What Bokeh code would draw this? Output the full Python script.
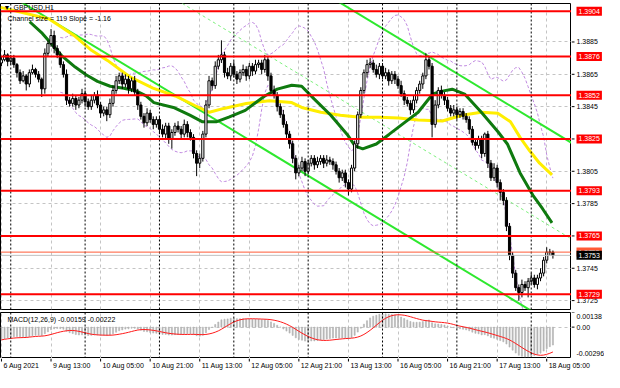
import numpy as np
from bokeh.plotting import figure
from bokeh.layouts import column, row
from bokeh.models import Range1d, FixedTicker, Span, Label
from bokeh.core.properties import value
from bokeh.embed import file_html
from bokeh.resources import INLINE

# ---------------- data ----------------
symbol_title = "GBPUSD,H1"
channel_text = "Channel size = 119 Slope = -1.16"
macd_text = "MACD(12,26,9) -0.00159 -0.00222"

time_labels = ["6 Aug 2021", "9 Aug 13:00", "10 Aug 05:00", "10 Aug 21:00", "11 Aug 13:00",
               "12 Aug 05:00", "12 Aug 21:00", "13 Aug 13:00", "16 Aug 05:00", "16 Aug 21:00",
               "17 Aug 13:00", "18 Aug 05:00"]
time_label_bars = [0, 16, 32, 48, 64, 80, 96, 112, 128, 144, 160, 176]
day_separator_bars = [3, 27, 51, 75, 99, 123, 147, 171]

first_open = 1.3872
closes = [
    1.3874, 1.3877, 1.3873, 1.3875,
    1.3871, 1.3866, 1.3861, 1.3864, 1.3859,
    1.3866, 1.3868, 1.3865, 1.3862,
    1.3856, 1.3878,
    1.3884, 1.3889, 1.3881,
    1.3877, 1.3871,
    1.3865, 1.3849,
    1.3847, 1.3850, 1.3846, 1.3849, 1.3853, 1.3848, 1.3845, 1.3849, 1.3852,
    1.3846, 1.3841, 1.3843, 1.3840,
    1.3847, 1.3855, 1.3861, 1.3864,
    1.3859, 1.3862, 1.3856, 1.3861, 1.3854,
    1.3846, 1.3839, 1.3835, 1.3841,
    1.3837, 1.3834, 1.3837, 1.3831, 1.3828, 1.3833,
    1.3825, 1.3829, 1.3833,
    1.3831, 1.3828, 1.3834, 1.3829, 1.3826,
    1.3816, 1.3810, 1.3813,
    1.3828, 1.3846, 1.3861,
    1.3858, 1.3870, 1.3874, 1.3877,
    1.3866, 1.3864, 1.3870, 1.3865, 1.3862, 1.3866, 1.3868, 1.3864,
    1.3870, 1.3867, 1.3871, 1.3872, 1.3868, 1.3874,
    1.3864, 1.3855, 1.3852, 1.3845,
    1.3840, 1.3834, 1.3828,
    1.3822, 1.3813, 1.3804,
    1.3807, 1.3811, 1.3805, 1.3810, 1.3813, 1.3809,
    1.3811, 1.3813, 1.3810, 1.3812, 1.3811, 1.3809,
    1.3805, 1.3801, 1.3804, 1.3798, 1.3794,
    1.3807, 1.3822, 1.3840,
    1.3855, 1.3866, 1.3871,
    1.3872, 1.3868, 1.3865, 1.3870,
    1.3864, 1.3866, 1.3861, 1.3865, 1.3862,
    1.3858, 1.3853, 1.3849, 1.3847,
    1.3843, 1.3849, 1.3855,
    1.3859, 1.3864, 1.3874,
    1.3870, 1.3834,
    1.3846, 1.3855, 1.3852, 1.3849,
    1.3844, 1.3841, 1.3843, 1.3840, 1.3842, 1.3839,
    1.3837, 1.3831, 1.3823, 1.3821,
    1.3825, 1.3816, 1.3828,
    1.3810, 1.3801,
    1.3807, 1.3798, 1.3792, 1.3787,
    1.3771, 1.3753,
    1.3742, 1.3733,
    1.3730, 1.3735, 1.3733,
    1.3737, 1.3739, 1.3735, 1.3739, 1.3742,
    1.3750, 1.3755,
    1.3755, 1.3753,
]
# wick lengths in pips beyond the candle body
upper_wick_pips = [
    2, 3, 1, 2, 2, 1, 2, 3, 1, 2,
    3, 1, 2, 1, 3, 2, 4, 3, 2, 2,
    2, 3, 2, 3, 2, 2, 3, 2, 2, 3,
    2, 3, 2, 2, 2, 3, 3, 3, 2, 2,
    3, 2, 2, 3, 2, 2, 2, 3, 2, 2,
    2, 2, 3, 2, 2, 2, 2, 3, 2, 3,
    2, 2, 2, 2, 3, 2, 3, 3, 2, 3,
    3, 9, 2, 3, 2, 3, 2, 2, 3, 2,
    2, 2, 3, 2, 2, 3, 2, 2, 3, 2,
    2, 3, 2, 2, 2, 2, 2, 3, 2, 2,
    2, 2, 3, 2, 2, 3, 2, 2, 2, 2,
    2, 2, 2, 2, 2, 2, 2, 2, 3, 3,
    2, 3, 2, 2, 3, 2, 2, 2, 2, 3,
    2, 2, 2, 3, 2, 2, 2, 4, 2, 2,
    3, 2, 3, 2, 2, 2, 3, 2, 2, 2,
    2, 2, 2, 2, 2, 2, 1, 2, 2, 3,
    2, 2, 2, 2, 2, 2, 2, 2, 3, 2,
    2, 3, 2, 2, 3, 2, 3, 2, 1,
]
lower_wick_pips = [
    2, 1, 3, 2, 2, 3, 2, 1, 4, 2,
    1, 2, 2, 5, 3, 2, 2, 3, 2, 2,
    2, 3, 2, 2, 3, 2, 2, 3, 2, 2,
    2, 2, 3, 2, 4, 2, 2, 2, 2, 3,
    2, 3, 2, 2, 3, 2, 3, 2, 2, 3,
    2, 3, 2, 3, 3, 6, 2, 2, 3, 2,
    3, 2, 3, 8, 3, 2, 2, 2, 3, 2,
    2, 2, 3, 2, 3, 2, 3, 2, 2, 3,
    2, 3, 2, 2, 3, 2, 3, 2, 2, 3,
    2, 2, 3, 3, 3, 4, 2, 2, 3, 2,
    2, 3, 2, 2, 3, 2, 2, 3, 2, 3,
    2, 3, 4, 2, 2, 3, 2, 2, 3, 2,
    2, 2, 3, 2, 2, 3, 2, 3, 2, 2,
    3, 2, 3, 2, 2, 2, 3, 2, 2, 8,
    2, 2, 2, 3, 2, 2, 2, 3, 2, 2,
    2, 3, 2, 3, 2, 3, 2, 3, 2, 2,
    3, 5, 3, 3, 3, 3, 2, 5, 3, 2,
    6, 2, 2, 3, 2, 2, 2, 2, 2,
]

# moving averages read at sample bars
ma_green_bars = [9.1, 13.2, 19.4, 23.8, 27.3, 31.0, 35.1, 39.5, 43.6, 46.7, 49.2, 55.5, 60.8, 64.9,
                 69.3, 73.4, 78.7, 85.0, 89.0, 93.7, 96.9, 100.9, 106.3, 111.6, 114.1, 116.6, 121.0,
                 125.1, 130.4, 134.5, 139.2, 142.3, 145.5, 149.5, 154.9, 160.2, 163.3, 167.4, 171.5,
                 174.6, 177.7]
ma_green_vals = [1.38975, 1.38903, 1.38766, 1.38695, 1.38647, 1.38606, 1.38576, 1.38564, 1.38546,
                 1.38516, 1.38475, 1.38445, 1.38397, 1.38356, 1.38356, 1.38385, 1.38427, 1.38516,
                 1.38558, 1.38582, 1.38576, 1.38498, 1.38397, 1.38278, 1.38207, 1.38189, 1.38219,
                 1.38278, 1.38356, 1.38415, 1.38528, 1.38546, 1.38558, 1.38528, 1.38415, 1.38296,
                 1.38219, 1.38040, 1.37903, 1.37820, 1.37731]
ma_yellow_bars = [-0.3, 15.4, 23.8, 28.8, 34.2, 41.4, 48.9, 56.1, 62.4, 67.1, 71.8, 79.0, 86.5, 93.7,
                  96.9, 103.1, 109.4, 115.7, 121.9, 128.2, 134.5, 142.3, 148.6, 154.9, 160.2, 164.3,
                  167.4, 170.5, 173.7, 177.7]
ma_yellow_vals = [1.39064, 1.38992, 1.38885, 1.38802, 1.38736, 1.38635, 1.38564, 1.38516, 1.38457,
                  1.38415, 1.38439, 1.38469, 1.38487, 1.38475, 1.38445, 1.38415, 1.38397, 1.38385,
                  1.38385, 1.38379, 1.38367, 1.38361, 1.38397, 1.38415, 1.38409, 1.38356, 1.38260,
                  1.38177, 1.38100, 1.38028]

# linear regression channel
channel_anchor_bar = 15.4
channel_anchor_price = 1.38992
channel_slope_pips = -1.16
channel_size_pips = 119

levels = [1.3904, 1.3876, 1.3852, 1.3825, 1.3793, 1.3765, 1.3729]
ask_price = 1.3755
bid_price = 1.3753
price_ticks = [1.3725, 1.3745, 1.3765, 1.3785, 1.3805, 1.3825, 1.3845, 1.3865, 1.3885]
macd_max, macd_min = 0.00138, -0.00296
macd_start = -0.0013
bb_period, bb_dev = 20, 2.0

# ---------------- derived ----------------
n = len(closes)
idx = np.arange(n)
c = np.array(closes)
o = np.concatenate([[first_open], c[:-1]])
hi = np.maximum(o, c) + np.array(upper_wick_pips) * 0.0001
lo = np.minimum(o, c) - np.array(lower_wick_pips) * 0.0001
inc = c >= o

bb_x, bb_up, bb_dn = [], [], []
for i in range(bb_period - 1, n):
    w = c[i - bb_period + 1:i + 1]
    m, s = w.mean(), w.std()
    bb_x.append(i); bb_up.append(m + bb_dev * s); bb_dn.append(m - bb_dev * s)

a12, a26 = 2 / 13, 2 / 27
e12 = c[0]; e26 = c[0] - macd_start
macd = []
for v in c:
    e12 = e12 + a12 * (v - e12)
    e26 = e26 + a26 * (v - e26)
    macd.append(e12 - e26)
macd = np.array(macd)
signal = np.array([macd[max(0, i - 8):i + 1].mean() for i in range(n)])

X0, X1 = -0.31, 184.0
Y0, Y1 = 1.37195, 1.39088
FONT = "Liberation Sans"
FW, SW = 571, 33
MAIN_H, MACD_H, TIME_H = 306, 46, 14
TOP = 3
X1_FULL = X1 + SW * (X1 - X0) / FW   # time scale runs under the price scale too


def bare(fig):
    fig.outline_line_color = None
    fig.background_fill_color = "white"
    fig.border_fill_color = "white"
    fig.xgrid.visible = False
    fig.ygrid.visible = False
    return fig


xr = Range1d(X0, X1)
main_yr = Range1d(Y0, Y1)
macd_yr = Range1d(macd_min, macd_max)

# ---------------- main pane ----------------
p = figure(frame_width=FW, frame_height=MAIN_H, x_range=xr, y_range=main_yr,
           x_axis_location=None, y_axis_location=None, toolbar_location=None,
           output_backend="svg", min_border_left=0, min_border_right=0,
           min_border_top=TOP, min_border_bottom=2)
p.outline_line_color = "black"
p.background_fill_color = "white"
p.border_fill_color = "white"
p.xgrid.ticker = FixedTicker(ticks=time_label_bars)
p.ygrid.ticker = FixedTicker(ticks=price_ticks)
for g in (p.xgrid, p.ygrid):
    g.grid_line_color = "#c4c4c4"
    g.grid_line_dash = "3 3"

for b in day_separator_bars:
    p.add_layout(Span(location=b, dimension="height", line_color="black", line_dash="2 2", line_width=1))

p.line(bb_x, bb_up, line_color="#c08ae0", line_dash="3 2", line_width=1)
p.line(bb_x, bb_dn, line_color="#c08ae0", line_dash="3 2", line_width=1)

cx = np.array([X0 - 1, X1 + 1])
lower = channel_anchor_price + channel_slope_pips * 0.0001 * (cx - channel_anchor_bar)
p.line(cx, lower, line_color="#2ee82e", line_width=2)
p.line(cx, lower + channel_size_pips * 0.0001, line_color="#2ee82e", line_width=2)
p.line(cx, lower + channel_size_pips * 0.00005, line_color="#7ef07e", line_width=1, line_dash="3 3")

for lv in levels:
    p.add_layout(Span(location=lv, dimension="width", line_color="#ff0000", line_width=2))
p.add_layout(Span(location=ask_price, dimension="width", line_color="#ff5a36", line_width=1))
p.add_layout(Span(location=bid_price, dimension="width", line_color="#c0c0c0", line_width=1))

p.line(ma_yellow_bars, ma_yellow_vals, line_color="#ffee00", line_width=3)
p.line(ma_green_bars, ma_green_vals, line_color="#0f7a0f", line_width=3)

p.segment(x0=idx, y0=lo, x1=idx, y1=hi, line_color="black", line_width=1)
p.vbar(x=idx[inc], width=0.7, top=c[inc], bottom=o[inc], fill_color="white", line_color="black", line_width=1)
p.vbar(x=idx[~inc], width=0.7, top=o[~inc], bottom=c[~inc], fill_color="black", line_color="black", line_width=1)

p.add_layout(Label(x=X0, y=Y1, x_offset=3, y_offset=0, text="\u25bc", text_font=FONT, text_font_size="7px",
                   text_color="black", text_baseline="top"))
p.add_layout(Label(x=X0, y=Y1, x_offset=13, y_offset=0, text=symbol_title, text_font=FONT,
                   text_font_size="7px", text_color="black", text_baseline="top"))
p.add_layout(Label(x=X0, y=Y1, x_offset=7, y_offset=-11, text=channel_text, text_font=FONT,
                   text_font_size="7px", text_color="black", text_baseline="top"))

# ---------------- main price scale (right) ----------------
a = bare(figure(frame_width=SW, frame_height=MAIN_H, x_range=Range1d(0, SW), y_range=main_yr,
                x_axis_location=None, y_axis_location=None, toolbar_location=None,
                output_backend="svg", min_border_left=0, min_border_right=0,
                min_border_top=TOP, min_border_bottom=2))
a.segment(x0=[0] * len(price_ticks), x1=[3] * len(price_ticks), y0=price_ticks, y1=price_ticks,
          line_color="black", line_width=1)
a.text(x=[5] * len(price_ticks), y=price_ticks, text=[f"{t:.4f}" for t in price_ticks],
       text_font=value(FONT), text_font_size="7px", text_color="black",
       text_baseline="middle", text_align="left")


def price_tag(pr, bg):
    a.add_layout(Label(x=5, y=pr, text=f"{pr:.4f}", text_font=FONT, text_font_size="7px",
                       text_color="white", text_baseline="middle", text_align="left",
                       background_fill_color=bg, padding=2))


for lv in levels:
    price_tag(lv, "#ff0000")
price_tag(ask_price, "#ff5a36")
price_tag(bid_price, "black")

# ---------------- MACD pane ----------------
q = figure(frame_width=FW, frame_height=MACD_H, x_range=xr, y_range=macd_yr,
           x_axis_location=None, y_axis_location=None, toolbar_location=None, output_backend="svg",
           min_border_left=0, min_border_right=0, min_border_top=1, min_border_bottom=0)
q.outline_line_color = "black"
q.background_fill_color = "white"
q.border_fill_color = "white"
q.xgrid.ticker = FixedTicker(ticks=time_label_bars)
q.ygrid.ticker = FixedTicker(ticks=[0])
for g in (q.xgrid, q.ygrid):
    g.grid_line_color = "#c4c4c4"
    g.grid_line_dash = "3 3"
for b in day_separator_bars:
    q.add_layout(Span(location=b, dimension="height", line_color="black", line_dash="2 2", line_width=1))

q.vbar(x=idx, width=0.35, top=macd, bottom=0, fill_color="#b4b4b4", line_color="#b4b4b4", line_width=0.6)
q.line(idx, signal, line_color="#ff1a1a", line_width=1)
q.add_layout(Label(x=X0, y=macd_max, x_offset=7, y_offset=-3, text=macd_text, text_font=FONT,
                   text_font_size="7px", text_color="black", text_baseline="top"))

b_ = bare(figure(frame_width=SW, frame_height=MACD_H, x_range=Range1d(0, SW), y_range=macd_yr,
                 x_axis_location=None, y_axis_location=None, toolbar_location=None,
                 output_backend="svg", min_border_left=0, min_border_right=0,
                 min_border_top=1, min_border_bottom=0))
b_.segment(x0=[0, 0, 0], x1=[3, 3, 3], y0=[macd_max, 0, macd_min], y1=[macd_max, 0, macd_min],
           line_color="black", line_width=1)
b_.text(x=[5], y=[macd_max], text=[f"{macd_max:.5f}"], text_font=value(FONT), text_font_size="7px",
        text_baseline="top", text_align="left", y_offset=1)
b_.text(x=[5], y=[0], text=["0.00"], text_font=value(FONT), text_font_size="7px",
        text_baseline="middle", text_align="left")
b_.text(x=[5], y=[macd_min], text=[f"{macd_min:.5f}"], text_font=value(FONT), text_font_size="7px",
        text_baseline="bottom", text_align="left", y_offset=-3)

# ---------------- time scale (full width, same bar scale) ----------------
t = bare(figure(frame_width=FW + SW, frame_height=TIME_H, x_range=Range1d(X0, X1_FULL),
                y_range=Range1d(0, TIME_H),
                x_axis_location=None, y_axis_location=None, toolbar_location=None,
                output_backend="svg", min_border_left=0, min_border_right=0,
                min_border_top=0, min_border_bottom=0))
t.segment(x0=time_label_bars, x1=time_label_bars, y0=[TIME_H] * len(time_label_bars),
          y1=[TIME_H - 3] * len(time_label_bars), line_color="black", line_width=1)
t.text(x=time_label_bars, y=[TIME_H] * len(time_label_bars), text=time_labels, text_font=value(FONT),
       text_font_size="7px", text_color="black", text_baseline="top", text_align="left",
       x_offset=2, y_offset=3)

layout = column(row(p, a), row(q, b_), t)
open("out.html", "w").write(file_html(layout, INLINE))
